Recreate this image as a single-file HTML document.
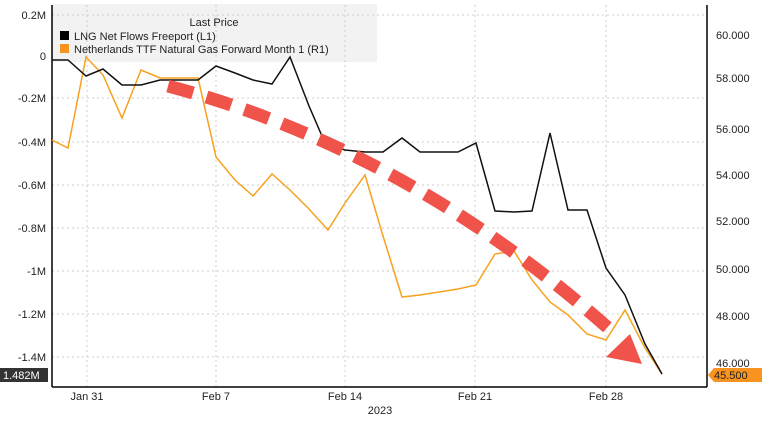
<!DOCTYPE html><html><head><style>body{margin:0;background:#fff}svg{font-family:"Liberation Sans",sans-serif}</style></head><body>
<svg width="763" height="424" viewBox="0 0 763 424" xmlns="http://www.w3.org/2000/svg">
<rect x="52" y="4" width="325" height="58" fill="#f2f2f2"/>
<g stroke="#ccc" stroke-dasharray="2,3" stroke-width="1">
<line x1="52" y1="15" x2="707" y2="15"/><line x1="52" y1="98" x2="707" y2="98"/><line x1="52" y1="142" x2="707" y2="142"/><line x1="52" y1="185" x2="707" y2="185"/><line x1="52" y1="228" x2="707" y2="228"/><line x1="52" y1="271" x2="707" y2="271"/><line x1="52" y1="314" x2="707" y2="314"/><line x1="52" y1="357" x2="707" y2="357"/>
<line x1="87" y1="5" x2="87" y2="387"/><line x1="216" y1="5" x2="216" y2="387"/><line x1="345" y1="5" x2="345" y2="387"/><line x1="475" y1="5" x2="475" y2="387"/><line x1="606" y1="5" x2="606" y2="387"/>
</g>
<g stroke="#000" stroke-width="1.5" fill="none"><line x1="52" y1="5" x2="52" y2="387"/><line x1="707" y1="5" x2="707" y2="387"/><line x1="52" y1="387" x2="707" y2="387"/></g>
<g font-size="11" fill="#222" text-anchor="end">
<text x="46" y="19">0.2M</text><text x="46" y="60">0</text><text x="46" y="102">-0.2M</text><text x="46" y="146">-0.4M</text><text x="46" y="189">-0.6M</text><text x="46" y="232">-0.8M</text><text x="46" y="275">-1M</text><text x="46" y="318">-1.2M</text><text x="46" y="361">-1.4M</text></g>
<g font-size="11" fill="#222">
<text x="716" y="39">60.000</text><text x="716" y="82">58.000</text><text x="716" y="133">56.000</text><text x="716" y="179">54.000</text><text x="716" y="225">52.000</text><text x="716" y="273">50.000</text><text x="716" y="320">48.000</text><text x="716" y="367">46.000</text></g>
<g font-size="11" fill="#222" text-anchor="middle"><text x="87" y="400">Jan 31</text><text x="216" y="400">Feb 7</text><text x="345" y="400">Feb 14</text><text x="475" y="400">Feb 21</text><text x="606" y="400">Feb 28</text><text x="380" y="414">2023</text></g>
<text x="214" y="26" font-size="11" text-anchor="middle" fill="#222">Last Price</text>
<rect x="60" y="31" width="9" height="9" fill="#000"/><text x="74" y="40" font-size="11" fill="#222">LNG Net Flows Freeport  (L1)</text>
<rect x="60" y="44" width="9" height="9" fill="#f7931e"/><text x="74" y="53" font-size="11" fill="#222">Netherlands TTF Natural Gas Forward Month 1  (R1)</text>
<polyline fill="none" stroke="#f7a21e" stroke-width="1.5" points="52,140 68,148 86,57 103,75 122,118 141,70 160,78 198,78 216,157 235,180 253,196 272,174 290,190 309,209 328,230 345,203 365,175 383,236 402,297 420,295 458,289 476,285 495,254 514,251 532,280 550,302 568,315 587,334 606,340 625,310 645,348 662,374"/>
<polyline fill="none" stroke="#111" stroke-width="1.5" points="52,60 68,60 86,76 103,69 122,85 141,85 160,80 198,80 216,66 235,73 253,80 272,84 290,57 309,106 325,143 345,150 365,152 383,152 402,138 420,152 440,152 458,152 476,143 495,211 514,212 532,211 550,133 568,210 587,210 606,268 625,295 645,344 662,374"/>
<path d="M168,86 Q410,150 616,335" fill="none" stroke="#f0534a" stroke-width="13" stroke-dasharray="26,14"/>
<polygon points="606,357 630,334 642,364" fill="#f0534a"/>
<rect x="0" y="368" width="48" height="14" fill="#333"/><text x="3" y="379" font-size="11" fill="#fff">1.482M</text>
<polygon points="708,375 714,368 762,368 762,382 714,382" fill="#f7931e"/><text x="714" y="379" font-size="11" fill="#222">45.500</text>
</svg></body></html>
